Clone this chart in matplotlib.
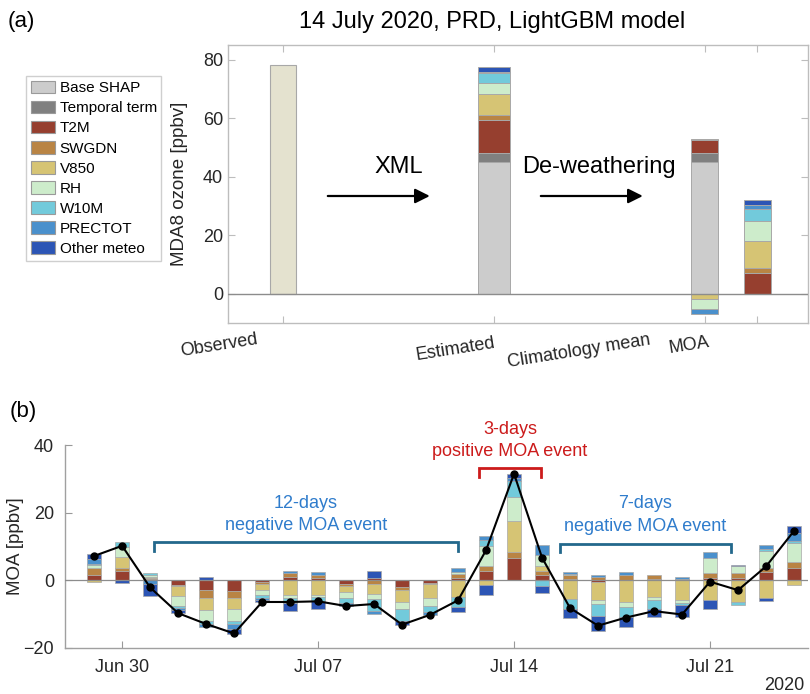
import numpy as np
import pandas as pd
import matplotlib
matplotlib.use("Agg")
import matplotlib.pyplot as plt
import matplotlib.dates as mdates
from matplotlib.patches import Patch

plt.rcParams['font.family'] = ['Liberation Sans', 'DejaVu Sans']

# ---------------- data ----------------
components = ['Base SHAP', 'Temporal term', 'T2M', 'SWGDN', 'V850', 'RH', 'W10M', 'PRECTOT', 'Other meteo']
colors = ['#cccccc', '#808080', '#963f2f', '#b98444', '#d6c474', '#cdeccb', '#72cadb', '#4a90cc', '#2c55b5']
observed_color = '#e4e2cf'

# panel (a)
bar_labels = ['Observed', 'Estimated', 'Climatology mean', 'MOA']
observed = 78.0
estimated = [45.0, 3.2, 11.0, 2.0, 7.2, 3.5, 3.6, 0.4, 1.5]
climatology = [45.0, 3.2, 4.2, 0.5, -1.9, -3.4, 0.0, -1.7, 0.0]
moa_a = [0.0, 0.0, 7.0, 1.8, 9.3, 6.9, 3.8, 1.5, 1.6]

# panel (b)
dates = pd.date_range('2020-06-29', '2020-07-24', freq='D')
T2M = [1.6, 2.8, 0.3, -1.5, -2.9, -3.1, -0.6, 0.9, 0.7, -1.0, 0.8, -2.0, -0.9, 0.6, 2.7, 6.7,
       1.5, 0.5, -0.4, 0.0, 0.5, 0.0, 0.6, 0.6, 2.4, 3.6]
SWGDN = [1.9, 0.7, 0.4, -0.2, -2.2, -2.0, -0.4, 1.2, 0.9, -0.8, -1.2, -0.9, -0.2, 1.3, 1.6, 1.8,
         1.3, 1.0, 0.9, 1.6, 1.1, 0.4, 1.5, 1.5, 1.2, 1.8]
V850 = [-0.6, 3.3, 0.2, -2.8, -3.8, -3.3, -1.9, -4.4, -4.2, -1.6, -2.8, -3.5, -4.0, -5.0, -1.5, 8.9,
        1.5, -5.4, -5.5, -6.4, -4.9, -5.7, -5.9, -6.4, -5.3, -1.4]
RH = [1.0, 3.0, 0.6, -3.0, -3.2, -3.5, -1.5, -0.8, -0.6, -1.8, -1.5, -2.2, -2.4, 0.5, 5.9, 7.1,
      3.2, 0.4, -1.0, -1.5, -1.0, -0.9, 4.5, 2.0, 5.1, 5.6]
W10M = [0.3, 1.4, 0.8, -0.7, -0.8, -1.0, -0.8, -1.4, -1.2, -1.4, -3.5, -3.3, -1.8, -3.0, 1.7, 4.9,
        -1.6, -3.1, -3.5, -3.0, -2.5, -0.8, 0.0, -0.8, 0.6, 0.5]
PRECTOT = [1.5, 0.0, -1.2, -0.6, -0.8, -1.5, -0.6, 0.7, 0.8, -0.6, -0.9, -0.2, -0.9, 1.2, 1.3, 0.8,
           2.8, 0.7, 0.7, 1.0, 0.0, 0.5, 1.7, 0.0, 1.2, 2.5]
Other = [1.6, -0.9, -3.3, -0.9, 0.9, -1.5, -0.6, -2.6, -2.6, -0.4, 2.1, -1.0, 0.0, -1.4, -2.8, 1.2,
         -2.2, -2.5, -4.5, -2.8, -2.3, -3.4, -2.7, 0.3, -0.9, 2.0]
MOA = [7.2, 10.2, -2.1, -9.7, -12.9, -15.7, -6.4, -6.4, -6.2, -7.6, -7.0, -13.1, -10.2, -5.9, 8.9, 31.5,
       6.7, -8.2, -13.4, -11.0, -9.1, -10.1, -0.4, -2.9, 4.1, 14.6]

events = [("12-days\nnegative MOA event", '2020-07-01', '2020-07-12', '#2f7ccc', '#23688c'),
          ("3-days\npositive MOA event", '2020-07-13', '2020-07-15', '#cc1b1b', '#cc1b1b'),
          ("7-days\nnegative MOA event", '2020-07-16', '2020-07-22', '#2f7ccc', '#23688c')]

# ---------------- figure ----------------
W, H = 810, 694
fig = plt.figure(figsize=(W / 100, H / 100), dpi=100)
tick_color = '#262626'
spine_color = '#bdbdbd'
edge = '#a8a8a8'


def fx(px):
    return px / W


def fy(py):
    return 1 - py / H


# ---- panel (a)
axa = fig.add_axes([fx(228), fy(323), fx(808) - fx(228), fy(45) - fy(323)])
xpos = [1, 2, 3, 3.25]
widths = [0.125, 0.15, 0.125, 0.13]

axa.bar(xpos[0], observed, widths[0], color=observed_color, edgecolor=edge, lw=0.8, zorder=2)


def stack(ax, x, vals, w):
    pos, neg = 0.0, 0.0
    for v, c in zip(vals, colors):
        if v > 0:
            ax.bar(x, v, w, bottom=pos, color=c, edgecolor=edge, lw=0.7, zorder=2)
            pos += v
        elif v < 0:
            ax.bar(x, v, w, bottom=neg, color=c, edgecolor=edge, lw=0.7, zorder=2)
            neg += v


stack(axa, xpos[1], estimated, widths[1])
stack(axa, xpos[2], climatology, widths[2])
stack(axa, xpos[3], moa_a, widths[3])

axa.axhline(0, color='#8c8c8c', lw=1.0, zorder=3)
axa.set_xlim(0.74, 3.49)
axa.set_ylim(-10, 85)
axa.set_yticks([0, 20, 40, 60, 80])
axa.set_xticks(xpos)
axa.set_xticklabels([])
axa.tick_params(direction='in', top=True, right=True, length=5, color=spine_color,
                labelsize=13, labelcolor=tick_color, width=0.8)
for s in axa.spines.values():
    s.set_color(spine_color)
    s.set_linewidth(1.0)
axa.set_ylabel('MDA8 ozone [ppbv]', fontsize=13.5, color=tick_color)
axa.yaxis.set_label_coords((188 - 228) / 580, 0.5)

# arrows and process labels
axa.annotate('', xy=(1.71, 33.4), xytext=(1.20, 33.4),
             arrowprops=dict(arrowstyle='-|>', color='k', lw=1.6, mutation_scale=22))
axa.annotate('', xy=(2.72, 33.4), xytext=(2.21, 33.4),
             arrowprops=dict(arrowstyle='-|>', color='k', lw=1.6, mutation_scale=22))
axa.text(1.55, 43.3, 'XML', fontsize=17, ha='center', va='center')
axa.text(2.50, 43.3, 'De-weathering', fontsize=17, ha='center', va='center')

# category labels (slanted)
label_centers = [(219, 345), (455, 349), (579, 351), (689, 345)]
for lab, (px, py) in zip(bar_labels, label_centers):
    fig.text(fx(px), fy(py), lab, fontsize=13, rotation=9, ha='center', va='center', color=tick_color)

fig.text(fx(492), fy(22), '14 July 2020, PRD, LightGBM model', fontsize=17, ha='center', va='center')
fig.text(fx(8), fy(22), '(a)', fontsize=16, ha='left', va='center')

handles = [Patch(facecolor=c, edgecolor='#9a9a9a', lw=0.8) for c in colors]
leg = fig.legend(handles, components, loc='upper left', bbox_to_anchor=(fx(26), fy(76)),
                 fontsize=11, frameon=True, fancybox=False, edgecolor='#c4c4c4',
                 handlelength=1.6, handleheight=0.9, handletextpad=0.3, labelspacing=0.36,
                 borderpad=0.3, borderaxespad=0)
leg.get_frame().set_linewidth(1.0)

# ---- panel (b)
axb = fig.add_axes([fx(65), fy(648), fx(808) - fx(65), fy(445) - fy(648)])
xd = mdates.date2num(dates)
series_b = [T2M, SWGDN, V850, RH, W10M, PRECTOT, Other]
colors_b = colors[2:]
pos_b = np.zeros(len(xd))
neg_b = np.zeros(len(xd))
bw = 0.52
for vals, c in zip(series_b, colors_b):
    v = np.asarray(vals, dtype=float)
    m = v > 0
    if m.any():
        axb.bar(xd[m], v[m], bw, bottom=pos_b[m], color=c, edgecolor=edge, lw=0.5, zorder=2)
    pos_b = pos_b + np.where(m, v, 0)
    m = v < 0
    if m.any():
        axb.bar(xd[m], v[m], bw, bottom=neg_b[m], color=c, edgecolor=edge, lw=0.5, zorder=2)
    neg_b = neg_b + np.where(m, v, 0)

axb.axhline(0, color='#8c8c8c', lw=0.9, zorder=3)
axb.plot(xd, MOA, color='k', lw=1.5, marker='o', ms=5, zorder=5)

axb.set_ylim(-20, 40)
axb.set_yticks([-20, 0, 20, 40])
x0 = mdates.date2num(pd.Timestamp('2020-06-29'))
axb.set_xlim(x0 - 1.04, x0 + 25.5)
axb.set_xticks(mdates.date2num(pd.to_datetime(['2020-06-30', '2020-07-07', '2020-07-14', '2020-07-21'])))
axb.xaxis.set_major_formatter(mdates.DateFormatter('%b %d'))
axb.tick_params(direction='in', length=5, color='#999999', labelsize=13, labelcolor=tick_color,
                width=0.8, pad=8)
axb.spines['top'].set_visible(False)
axb.spines['right'].set_visible(False)
for s in ['left', 'bottom']:
    axb.spines[s].set_color('#a0a0a0')
    axb.spines[s].set_linewidth(1.0)
axb.set_ylabel('MOA [ppbv]', fontsize=13.5, color=tick_color)
axb.yaxis.set_label_coords((24 - 65) / 743, 0.5)

# event brackets
bracket_offsets = [(0.14, 0.0), (-0.25, -0.04), (-0.36, -0.25)]
bracket_y = [(11.2, 8.6), (33.1, 30.5), (10.7, 8.4)]
text_y = [(22.8, 16.2), (44.7, 38.2), (22.8, 16.0)]
for (txt, s, e, tc, bc), (o1, o2), (yt, yb), (y1, y2) in zip(events, bracket_offsets, bracket_y, text_y):
    xs = mdates.date2num(pd.Timestamp(s)) + o1
    xe = mdates.date2num(pd.Timestamp(e)) + o2
    axb.plot([xs, xs, xe, xe], [yb, yt, yt, yb], color=bc, lw=2.0, clip_on=False, zorder=4,
             solid_joinstyle='miter')
    l1, l2 = txt.split('\n')
    xm = (xs + xe) / 2
    axb.text(xm, y1, l1, color=tc, fontsize=13, ha='center', va='center', clip_on=False)
    axb.text(xm, y2, l2, color=tc, fontsize=13, ha='center', va='center', clip_on=False)

fig.text(fx(784), fy(685), '2020', fontsize=13, ha='center', va='center', color=tick_color)
fig.text(fx(10), fy(412), '(b)', fontsize=16, ha='left', va='center')

fig.savefig('out.png', dpi=100)
